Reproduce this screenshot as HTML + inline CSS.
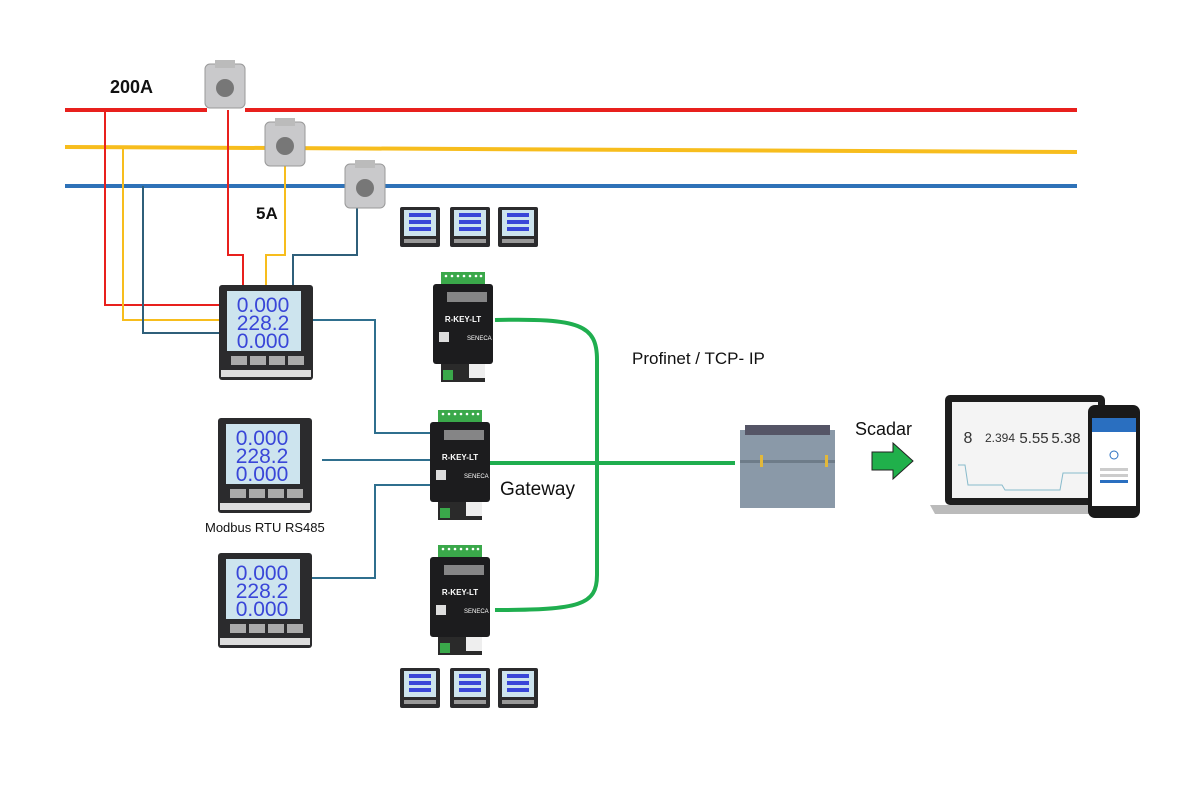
<!DOCTYPE html>
<html><head><style>
body{margin:0;width:1200px;height:800px;background:#fff;overflow:hidden;font-family:"Liberation Sans",sans-serif}
svg{position:absolute;left:0;top:0}
</style></head><body>
<svg width="1200" height="800" viewBox="0 0 1200 800" font-family="Liberation Sans, sans-serif">
<defs>
<g id="meter">
 <rect x="0" y="0" width="94" height="95" rx="3" fill="#2b2b2d"/>
 <rect x="8" y="6" width="74" height="60" fill="#cde4ee"/>
 <text x="44" y="27" font-size="21" fill="#3946d8" text-anchor="middle" font-family="Liberation Sans Narrow, Liberation Sans, sans-serif">0.000</text>
 <text x="44" y="45" font-size="21" fill="#3946d8" text-anchor="middle" font-family="Liberation Sans Narrow, Liberation Sans, sans-serif">228.2</text>
 <text x="44" y="63" font-size="21" fill="#3946d8" text-anchor="middle" font-family="Liberation Sans Narrow, Liberation Sans, sans-serif">0.000</text>
 <rect x="12" y="71" width="16" height="9" fill="#aaa"/><rect x="31" y="71" width="16" height="9" fill="#aaa"/>
 <rect x="50" y="71" width="16" height="9" fill="#aaa"/><rect x="69" y="71" width="16" height="9" fill="#aaa"/>
 <rect x="2" y="85" width="90" height="7" fill="#ddd"/>
</g>
<g id="sm">
 <rect width="40" height="40" rx="2" fill="#2b2b2d"/>
 <rect x="4" y="3" width="32" height="26" fill="#cde4ee"/>
 <rect x="9" y="6" width="22" height="4" fill="#3946d8"/><rect x="9" y="13" width="22" height="4" fill="#3946d8"/><rect x="9" y="20" width="22" height="4" fill="#3946d8"/>
 <rect x="4" y="32" width="32" height="4" fill="#999"/>
</g>
<g id="gw">
 <rect x="8" y="0" width="44" height="12" fill="#3aa84a"/>
 <g fill="#fff"><circle cx="13" cy="4" r="1.3"/><circle cx="19" cy="4" r="1.3"/><circle cx="25" cy="4" r="1.3"/><circle cx="31" cy="4" r="1.3"/><circle cx="37" cy="4" r="1.3"/><circle cx="43" cy="4" r="1.3"/><circle cx="48" cy="4" r="1.3"/></g>
 <rect x="0" y="12" width="60" height="80" rx="3" fill="#1c1c1e"/>
 <rect x="14" y="20" width="40" height="10" fill="#ccc" opacity=".6"/>
 <text x="30" y="50" font-size="8" font-weight="bold" fill="#fff" text-anchor="middle">R-KEY-LT</text>
 <rect x="6" y="60" width="10" height="10" fill="#ddd"/>
 <text x="34" y="68" font-size="6" fill="#fff">SENECA</text>
 <rect x="8" y="92" width="44" height="18" fill="#2a2a2a"/>
 <rect x="10" y="98" width="10" height="10" fill="#3aa84a"/>
 <rect x="36" y="92" width="16" height="14" fill="#eee"/>
</g>
<g id="ct">
 <rect x="0" y="4" width="40" height="44" rx="5" fill="#c9c9cb" stroke="#999"/>
 <rect x="10" y="0" width="20" height="8" fill="#bbb"/>
 <circle cx="20" cy="28" r="9" fill="#777"/>
</g>
</defs>
<line x1="65" y1="110" x2="207" y2="110" stroke="#e8201d" stroke-width="4"/>
<line x1="245" y1="110" x2="1077" y2="110" stroke="#e8201d" stroke-width="4"/>
<line x1="65" y1="147" x2="1077" y2="152" stroke="#f7bd1d" stroke-width="4"/>
<line x1="65" y1="186" x2="1077" y2="186" stroke="#2e72b8" stroke-width="4"/>
<g fill="none" stroke-width="2">
<polyline points="105,110 105,305 220,305" stroke="#e8201d"/>
<polyline points="123,148 123,320 220,320" stroke="#f7bd1d"/>
<polyline points="143,186 143,333 220,333" stroke="#2f5f7a"/>
<polyline points="228,110 228,255 243,255 243,285" stroke="#e8201d"/>
<polyline points="285,165 285,255 266,255 266,285" stroke="#f7bd1d"/>
<polyline points="357,205 357,255 293,255 293,285" stroke="#2f5f7a"/>
<polyline points="313,320 375,320 375,433 433,433" stroke="#2f6f8e"/>
<polyline points="322,460 430,460" stroke="#2f6f8e"/>
<polyline points="312,578 375,578 375,485 430,485" stroke="#2f6f8e"/>
</g>
<g fill="none" stroke="#1fae4f" stroke-width="4">
<path d="M495,320 C580,318 597,325 597,360 L597,575 C597,605 580,610 495,610"/>
<line x1="490" y1="463" x2="735" y2="463"/>
</g>
<use href="#ct" x="205" y="60"/>
<use href="#ct" x="265" y="118"/>
<use href="#ct" x="345" y="160"/>
<use href="#meter" x="219" y="285"/>
<use href="#meter" x="218" y="418"/>
<use href="#meter" x="218" y="553"/>
<use href="#sm" x="400" y="207"/><use href="#sm" x="450" y="207"/><use href="#sm" x="498" y="207"/>
<use href="#sm" x="400" y="668"/><use href="#sm" x="450" y="668"/><use href="#sm" x="498" y="668"/>
<use href="#gw" x="433" y="272"/>
<use href="#gw" x="430" y="410"/>
<use href="#gw" x="430" y="545"/>
<rect x="740" y="430" width="95" height="78" fill="#8a99a8"/>
<rect x="745" y="425" width="85" height="10" fill="#556"/>
<rect x="740" y="460" width="95" height="3" fill="#6e7c89"/>
<rect x="760" y="455" width="3" height="12" fill="#e2b83a"/><rect x="825" y="455" width="3" height="12" fill="#e2b83a"/>
<polygon points="872,452 893,452 893,443 913,461 893,479 893,470 872,470" fill="#20b04b" stroke="#222"/>
<rect x="945" y="395" width="160" height="110" rx="5" fill="#1e1e1e"/>
<rect x="952" y="402" width="146" height="96" fill="#f4f4f4"/>
<polygon points="930,505 1120,505 1115,514 935,514" fill="#bbb"/>
<text x="968" y="443" font-size="16" fill="#333" text-anchor="middle">8</text>
<text x="1000" y="442" font-size="12" fill="#333" text-anchor="middle">2.394</text>
<text x="1034" y="443" font-size="15" fill="#333" text-anchor="middle">5.55</text>
<text x="1066" y="443" font-size="15" fill="#333" text-anchor="middle">5.38</text>
<polyline points="958,465 965,465 968,485 1002,485 1005,490 1060,490 1063,473 1095,473" fill="none" stroke="#8bc" stroke-width="1"/>
<rect x="1088" y="405" width="52" height="113" rx="7" fill="#1a1a1a"/>
<rect x="1092" y="418" width="44" height="88" fill="#fff"/>
<rect x="1092" y="418" width="44" height="14" fill="#2a6fc0"/>
<circle cx="1114" cy="455" r="4" fill="none" stroke="#2a6fc0"/>
<rect x="1100" y="468" width="28" height="3" fill="#ccc"/><rect x="1100" y="474" width="28" height="3" fill="#ccc"/>
<rect x="1100" y="480" width="28" height="3" fill="#2a6fc0"/>
<text x="110" y="93" font-size="18" font-weight="bold" fill="#111">200A</text>
<text x="256" y="219" font-size="17" font-weight="bold" fill="#111">5A</text>
<text x="205" y="532" font-size="13" fill="#111">Modbus RTU RS485</text>
<text x="632" y="364" font-size="17" fill="#111">Profinet / TCP- IP</text>
<text x="500" y="495" font-size="19" fill="#111">Gateway</text>
<text x="855" y="435" font-size="18" fill="#111">Scadar</text>
</svg>
</body></html>
